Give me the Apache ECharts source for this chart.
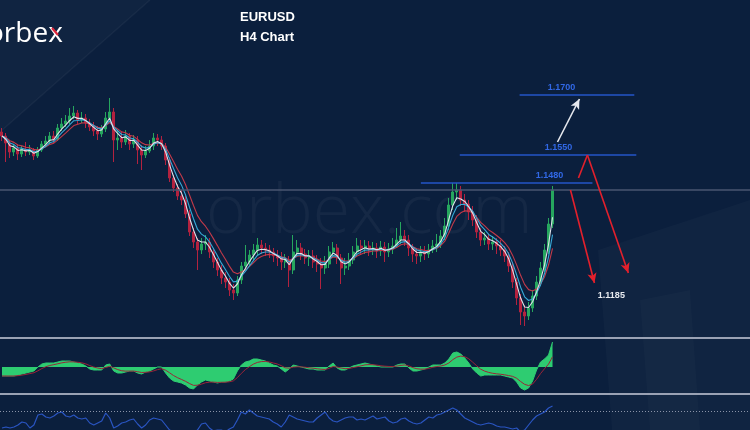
<!DOCTYPE html>
<html><head><meta charset="utf-8">
<script src="https://cdn.jsdelivr.net/npm/echarts@6/dist/echarts.min.js"></script>
<style>html,body{margin:0;padding:0;background:#0b1f3d;overflow:hidden}#c{width:750px;height:430px}</style>
</head><body><div id="c"></div>
<script>
// ---------- DATA ----------
const firstOpen = 1.16075;
const closes = [
1.15975,1.15800,1.15575,1.15675,1.15525,1.15650,1.15575,1.15625,1.15475,1.15625,
1.15775,1.15850,1.15975,1.15900,1.16175,1.16275,1.16350,1.16475,1.16550,1.16375,
1.16425,1.16300,1.16200,1.16100,1.16025,1.16150,1.16425,1.16575,1.15875,1.15925,
1.15825,1.15975,1.15775,1.15875,1.15625,1.15500,1.15600,1.15725,1.15925,1.15875,
1.15725,1.15375,1.14925,1.14675,1.14475,1.14375,1.14025,1.13575,1.13325,1.13125,
1.13275,1.13325,1.13075,1.12825,1.12625,1.12425,1.12325,1.12125,1.12050,1.12375,
1.12725,1.12825,1.13000,1.13125,1.13250,1.13175,1.13125,1.13075,1.12975,1.12925,
1.12825,1.12875,1.12625,1.13075,1.13175,1.13025,1.12925,1.12975,1.12825,1.12775,
1.12675,1.12775,1.13075,1.13175,1.12925,1.12675,1.12725,1.12875,1.13075,1.13225,
1.13175,1.13225,1.13125,1.13175,1.13100,1.13200,1.13075,1.13150,1.13225,1.13375,
1.13475,1.13375,1.13175,1.13025,1.12975,1.13075,1.13025,1.13125,1.13225,1.13275,
1.13475,1.13725,1.14250,1.14575,1.14625,1.14375,1.14275,1.14075,1.13875,1.13575,
1.13375,1.13425,1.13275,1.13325,1.13225,1.13125,1.12975,1.12725,1.12325,1.11925,
1.11575,1.11475,1.11675,1.11975,1.12325,1.12675,1.13125,1.13775,1.14625];
const highs = [
1.16175,1.16050,1.15875,1.15775,1.15750,1.15725,1.15825,1.15750,1.15675,1.15700,
1.15850,1.15975,1.16075,1.16100,1.16275,1.16425,1.16500,1.16675,1.16725,1.16625,
1.16575,1.16525,1.16400,1.16325,1.16225,1.16250,1.16575,1.16925,1.16675,1.16125,
1.16075,1.16125,1.16050,1.16000,1.15975,1.15750,1.15725,1.15875,1.16050,1.16025,
1.15975,1.15800,1.15450,1.15000,1.14775,1.14625,1.14475,1.14125,1.13675,1.13425,
1.13425,1.13500,1.13425,1.13175,1.12925,1.12750,1.12575,1.12425,1.12275,1.12475,
1.12825,1.13250,1.13125,1.13275,1.13425,1.13375,1.13300,1.13250,1.13175,1.13125,
1.13075,1.13025,1.12975,1.13500,1.13375,1.13300,1.13150,1.13125,1.13125,1.13000,
1.12925,1.12975,1.13225,1.13325,1.13275,1.13025,1.12925,1.13050,1.13225,1.13425,
1.13375,1.13375,1.13350,1.13325,1.13300,1.13350,1.13325,1.13300,1.13425,1.13675,
1.13825,1.13625,1.13500,1.13275,1.13175,1.13225,1.13225,1.13275,1.13375,1.13525,
1.13625,1.13925,1.14425,1.14800,1.14800,1.14725,1.14525,1.14375,1.14225,1.14000,
1.13675,1.13575,1.13525,1.13475,1.13425,1.13375,1.13225,1.13075,1.12825,1.12425,
1.12025,1.11750,1.11825,1.12125,1.12475,1.12825,1.13275,1.13925,1.14725];
const lows = [
1.15850,1.15325,1.15425,1.15475,1.15375,1.15450,1.15475,1.15500,1.15375,1.15425,
1.15575,1.15725,1.15775,1.15800,1.15850,1.16100,1.16200,1.16275,1.16400,1.16275,
1.16300,1.16175,1.16100,1.15975,1.15875,1.15950,1.16075,1.16375,1.15325,1.15625,
1.15675,1.15750,1.15625,1.15675,1.15275,1.15125,1.15425,1.15550,1.15625,1.15725,
1.15625,1.15250,1.14825,1.14575,1.14375,1.14250,1.13925,1.13475,1.13175,1.12625,
1.13025,1.13125,1.12925,1.12675,1.12475,1.12275,1.12175,1.11975,1.11875,1.11975,
1.12275,1.12625,1.12725,1.12875,1.13000,1.13025,1.12975,1.12925,1.12825,1.12725,
1.12625,1.12675,1.12200,1.12525,1.12975,1.12875,1.12775,1.12725,1.12675,1.12575,
1.12150,1.12525,1.12675,1.12975,1.12775,1.12275,1.12500,1.12625,1.12775,1.12975,
1.13025,1.13025,1.12975,1.13000,1.12925,1.12975,1.12825,1.12950,1.13025,1.13175,
1.13275,1.13225,1.12975,1.12825,1.12775,1.12825,1.12875,1.12925,1.13050,1.13075,
1.13175,1.13375,1.13625,1.14125,1.14375,1.14225,1.14075,1.13875,1.13725,1.13425,
1.13225,1.13250,1.13125,1.13125,1.13025,1.12975,1.12825,1.12575,1.12175,1.11750,
1.11250,1.11225,1.11375,1.11575,1.11875,1.12225,1.12575,1.13025,1.13675];
const macd = [
-0.0009,-0.0009,-0.0009,-0.0009,-0.0008,-0.0007,-0.0006,-0.0005,-0.0004,0.0000,
0.0003,0.0004,0.0004,0.0004,0.0005,0.0006,0.0006,0.0006,0.0005,0.0004,
0.0003,0.0001,-0.0002,-0.0003,-0.0003,-0.0003,0.0002,0.0003,-0.0004,-0.0006,
-0.0006,-0.0005,-0.0004,-0.0004,-0.0006,-0.0007,-0.0005,-0.0004,-0.0002,0.0000,
0.0000,-0.0006,-0.0011,-0.0014,-0.0015,-0.0016,-0.0018,-0.0021,-0.0022,-0.0018,
-0.0015,-0.0013,-0.0014,-0.0015,-0.0016,-0.0015,-0.0015,-0.0014,-0.0012,-0.0004,
0.0002,0.0005,0.0006,0.0008,0.0008,0.0007,0.0006,0.0004,0.0002,0.0001,
-0.0002,-0.0005,-0.0002,0.0002,0.0001,0.0000,-0.0001,-0.0002,-0.0002,-0.0003,
-0.0003,-0.0003,0.0001,0.0004,-0.0001,-0.0003,-0.0003,-0.0001,0.0001,0.0002,
0.0003,0.0004,0.0003,0.0002,0.0001,0.0000,0.0000,0.0000,0.0000,0.0002,
0.0003,0.0003,-0.0001,-0.0004,-0.0004,-0.0003,-0.0002,0.0000,0.0002,0.0002,
0.0002,0.0004,0.0008,0.0014,0.0015,0.0013,0.0009,0.0004,-0.0002,-0.0006,
-0.0009,-0.0008,-0.0008,-0.0008,-0.0008,-0.0008,-0.0009,-0.0010,-0.0011,-0.0015,
-0.0021,-0.0023,-0.0021,-0.0014,-0.0003,0.0005,0.0008,0.0012,0.0025];
const rsi = [
53,54,53,54,56,59,58,53,56,66,67,64,63,65,68,69,65,64,66,63,
62,63,58,56,58,60,68,63,53,55,58,59,61,62,57,53,56,61,63,62,
61,56,51,49,50,48,47,49,48,51,57,58,53,50,51,51,49,52,54,61,
69,67,71,68,65,64,63,62,59,57,54,59,66,64,62,61,60,59,59,63,
66,69,63,60,59,61,63,64,64,61,62,61,63,65,62,63,64,60,58,59,
62,63,60,58,57,58,61,64,63,66,67,69,71,73,71,67,63,61,59,57,
56,57,58,57,55,54,54,53,52,53,49,51,56,61,65,67,69,73,75];
const levels = [1.1700, 1.1550, 1.1480];
const target = 1.1185;
const priceLine = 1.14625;
const rsiLevel = 70;
const totalBars = 188;
const categories = Array.from({length: totalBars}, (_, i) => 'Bar ' + (i + 1));

// ---------- annotation geometry (bar index, price) ----------
const levelSpans = [[129.75, 158.5], [114.75, 159], [105, 148]];
const levelLabelX = [140.25, 139.5, 137.25];
const targetLabelX = 152.75;
const whiteArrow = [[139.25, 1.15825], [144.75, 1.16900]];
const redZig = [[144.5, 1.14925], [146.75, 1.15500], [157, 1.12550]];
const redArrow = [[142.5, 1.14625], [148.5, 1.12300]];

// ---------- build ----------
const ohlc = closes.map((c, i) => [i === 0 ? firstOpen : closes[i - 1], c, lows[i], highs[i]]);
function ema(arr, n) {
  const k = 2 / (n + 1); let prev = arr[0];
  return arr.map((v, i) => { prev = i === 0 ? v : v * k + prev * (1 - k); return +prev.toFixed(6); });
}
const ma1 = ema(closes, 3), ma2 = ema(closes, 5), ma3 = ema(closes, 8);
const signal = ema(macd, 5);

const chart = echarts.init(document.getElementById('c'), null, {renderer: 'canvas'});
const BLUE = '#2456c8', RED = '#e3202c';
const hidden = {show: false};
const catAxis = (g) => ({type: 'category', data: categories, gridIndex: g, boundaryGap: true, axisLine: hidden, axisTick: hidden, axisLabel: hidden, splitLine: hidden});
const solid = (color, width) => ({color: color, width: width, type: 'solid'});

const markLines = [];
markLines.push([{coord: [-0.5, priceLine], lineStyle: solid('#4a5670', 1.5), symbol: 'none'}, {coord: [totalBars - 0.5, priceLine], symbol: 'none'}]);
levels.forEach((v, k) => markLines.push([{coord: [levelSpans[k][0], v], lineStyle: solid(BLUE, 1.6), symbol: 'none'}, {coord: [levelSpans[k][1], v], symbol: 'none'}]));
markLines.push([{coord: whiteArrow[0], lineStyle: solid('#e6e8ee', 1.6), symbol: 'none'}, {coord: whiteArrow[1], symbol: 'arrow'}]);
markLines.push([{coord: redZig[0], lineStyle: solid(RED, 1.6), symbol: 'none'}, {coord: redZig[1], symbol: 'none'}]);
markLines.push([{coord: redZig[1], lineStyle: solid(RED, 1.6), symbol: 'none'}, {coord: redZig[2], symbol: 'arrow'}]);
markLines.push([{coord: redArrow[0], lineStyle: solid(RED, 1.6), symbol: 'none'}, {coord: redArrow[1], symbol: 'arrow'}]);

const markPoints = levels.map((v, k) => ({coord: [levelLabelX[k], v], value: v.toFixed(4),
  label: {show: true, position: 'inside', offset: [0, -7], formatter: v.toFixed(4), color: '#3168e6', fontSize: 9, fontWeight: 'bold', fontFamily: 'Liberation Sans'}}));
markPoints.push({coord: [targetLabelX, target], value: target.toFixed(4),
  label: {show: true, position: 'inside', offset: [0, -5], formatter: target.toFixed(4), color: '#e8ebf0', fontSize: 9, fontWeight: 'bold', fontFamily: 'Liberation Sans'}});

const option = {
  animation: false,
  backgroundColor: '#0b1f3d',
  grid: [
    {left: 0, top: 0, width: 750, height: 337},
    {left: 0, top: 341, width: 750, height: 52},
    {left: 0, top: 398, width: 750, height: 32}
  ],
  xAxis: [
    catAxis(0),
    {type: 'value', gridIndex: 0, min: -0.5, max: totalBars - 0.5, show: false},
    catAxis(1),
    catAxis(2)
  ],
  yAxis: [
    {type: 'value', gridIndex: 0, min: 1.10950, max: 1.19375, show: false, splitLine: hidden},
    {type: 'value', gridIndex: 1, min: -0.0026, max: 0.0026, show: false, splitLine: hidden},
    {type: 'value', gridIndex: 2, min: 51, max: 83, show: false, splitLine: hidden}
  ],
  graphic: [
    {type: 'polygon', z: -10, shape: {points: [[0, 0], [150, 0], [0, 132]]}, style: {fill: 'rgba(255,255,255,0.022)'}},
    {type: 'line', z: -9, shape: {x1: 0, y1: 132, x2: 150, y2: 0}, style: {stroke: 'rgba(255,255,255,0.045)', lineWidth: 1.5}},
    {type: 'polygon', z: -10, shape: {points: [[598, 250], [750, 200], [750, 430], [612, 430]]}, style: {fill: 'rgba(255,255,255,0.022)'}},
    {type: 'polygon', z: -10, shape: {points: [[640, 300], [690, 290], [700, 430], [650, 430]]}, style: {fill: 'rgba(255,255,255,0.018)'}},
    {type: 'text', z: -5, style: {x: 206, y: 214, text: 'orbex.com', font: '300 68px "Open Sans"', fill: 'rgba(255,255,255,0.042)', textVerticalAlign: 'middle'}},
    {type: 'text', z: 10, style: {x: -13, y: 34, text: 'orbex', font: '28px "Open Sans"', fill: '#ffffff', textVerticalAlign: 'middle'}},
    {type: 'line', z: 11, shape: {x1: 52, y1: 28, x2: 58, y2: 35}, style: {stroke: '#e0283c', lineWidth: 2.2}},
    {type: 'text', z: 10, style: {x: 240, y: 17, text: 'EURUSD', font: 'bold 13px "Liberation Sans"', fill: '#ffffff', textVerticalAlign: 'middle'}},
    {type: 'text', z: 10, style: {x: 240, y: 37, text: 'H4 Chart', font: 'bold 13px "Liberation Sans"', fill: '#ffffff', textVerticalAlign: 'middle'}},
    {type: 'rect', z: 10, shape: {x: 0, y: 337, width: 750, height: 2}, style: {fill: '#9aa2b4'}},
    {type: 'rect', z: 10, shape: {x: 0, y: 393, width: 750, height: 2}, style: {fill: '#9aa2b4'}}
  ],
  series: [
    {type: 'candlestick', xAxisIndex: 0, yAxisIndex: 0, data: ohlc, barWidth: 2.5,
     itemStyle: {color: '#26a65e', color0: '#b3223f', borderColor: '#26a65e', borderColor0: '#b3223f', borderWidth: 1}},
    {type: 'line', xAxisIndex: 0, yAxisIndex: 0, data: ma3, showSymbol: false, lineStyle: {color: '#c23a4a', width: 1.1}},
    {type: 'line', xAxisIndex: 0, yAxisIndex: 0, data: ma2, showSymbol: false, lineStyle: {color: '#38aad8', width: 1.1}},
    {type: 'line', xAxisIndex: 0, yAxisIndex: 0, data: ma1, showSymbol: false, lineStyle: {color: '#dfe3ea', width: 1.1}},
    {type: 'line', xAxisIndex: 1, yAxisIndex: 0, data: [], z: 5,
     markLine: {silent: true, symbolSize: [7, 10], label: {show: false}, lineStyle: {type: 'solid'}, data: markLines},
     markPoint: {silent: true, symbol: 'rect', symbolSize: 1, itemStyle: {color: 'rgba(0,0,0,0)'}, data: markPoints}},
    {type: 'line', xAxisIndex: 2, yAxisIndex: 1, data: macd, showSymbol: false,
     lineStyle: {color: '#2ecc71', width: 1}, areaStyle: {color: '#2ecc71', opacity: 1, origin: 0}},
    {type: 'line', xAxisIndex: 2, yAxisIndex: 1, data: signal, showSymbol: false, lineStyle: {color: '#9a2438', width: 1}},
    {type: 'line', xAxisIndex: 3, yAxisIndex: 2, data: rsi, showSymbol: false, lineStyle: {color: '#2a55c2', width: 1.2},
     markLine: {silent: true, symbol: 'none', label: {show: false},
       data: [{yAxis: rsiLevel, lineStyle: {color: '#8a93a8', width: 1, type: [1, 2]}}]}}
  ]
};
chart.setOption(option);
</script>
</body></html>
